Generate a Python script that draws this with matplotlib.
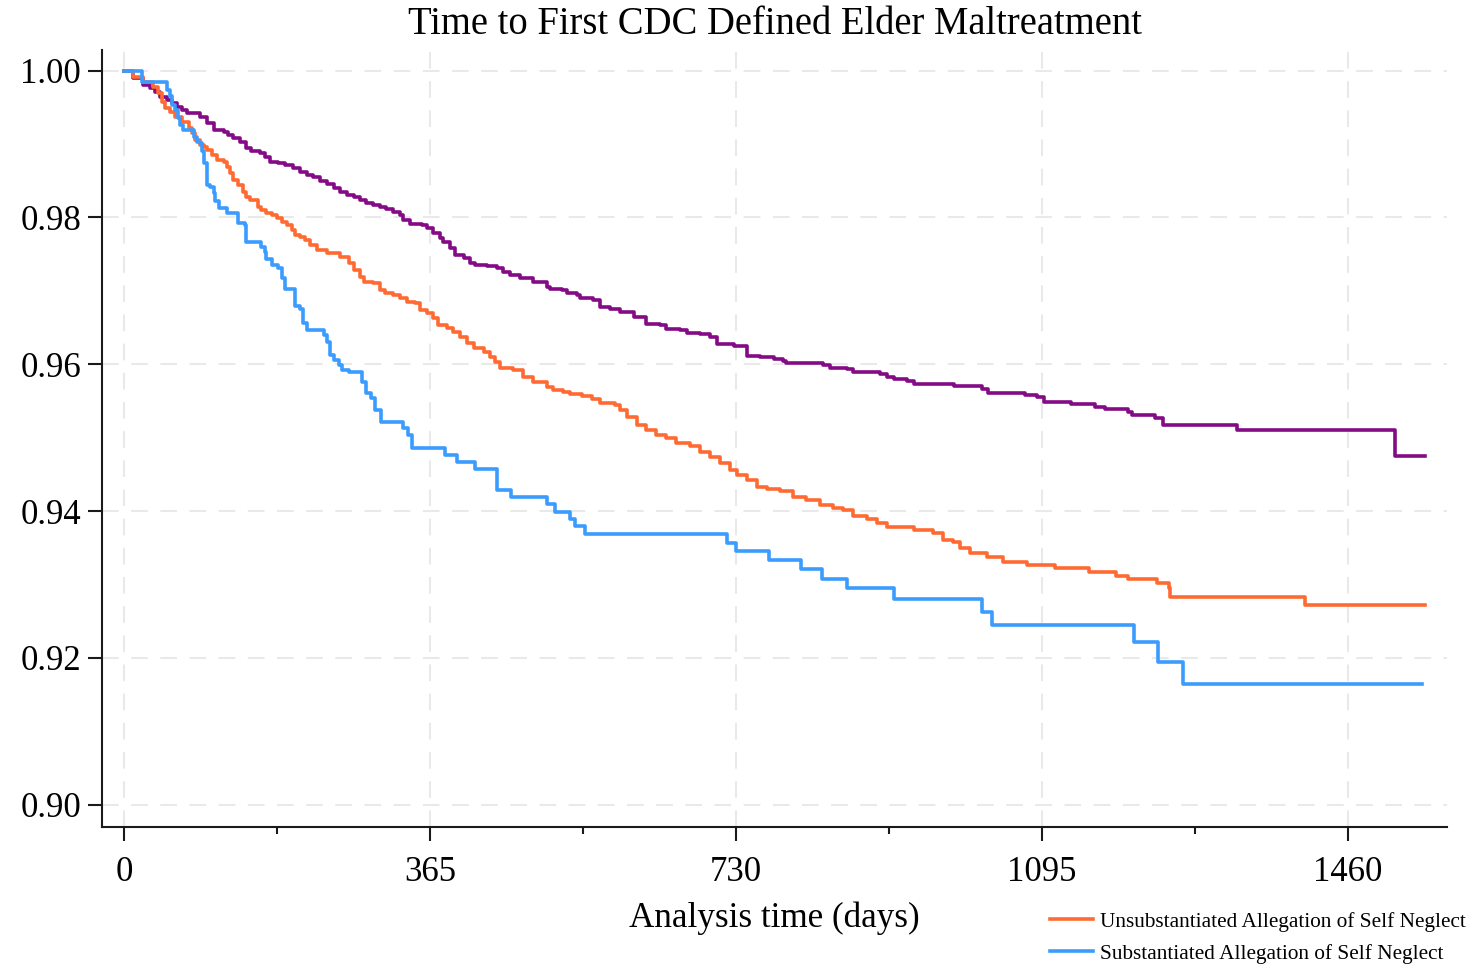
import matplotlib
matplotlib.use("Agg")
import matplotlib.pyplot as plt
from matplotlib.ticker import FixedLocator, FuncFormatter

plt.rcParams['font.family'] = ['Liberation Serif', 'DejaVu Serif']

title = "Time to First CDC Defined Elder Maltreatment"
xlabel = "Analysis time (days)"
label_unsub = "Unsubstantiated Allegation of Self Neglect"
label_sub = "Substantiated Allegation of Self Neglect"

x_ticks = [0, 365, 730, 1095, 1460]
x_minor = [182.5, 547.5, 912.5, 1277.5]
y_ticks = [0.90, 0.92, 0.94, 0.96, 0.98, 1.00]

# Purple series (no legend entry)
t_purple = [0, 11, 23, 31, 37, 43, 51, 57, 63, 69, 75, 85, 91, 99, 107, 119, 124, 130, 138, 146,
            152, 162, 168, 174, 184, 192, 202, 210, 218, 226, 234, 242, 250, 258, 266, 274, 282, 289,
            297, 305, 313, 321, 329, 333, 341, 355, 361, 369, 377, 381, 389, 395, 405, 413, 419, 433,
            445, 452, 460, 472, 488, 504, 508, 522, 528, 540, 544, 560, 568, 580, 592, 608, 623, 639,
            647, 663, 671, 687, 699, 707, 727, 743, 759, 775, 786, 790, 834, 842, 862, 870, 902, 910,
            918, 934, 942, 990, 1023, 1031, 1075, 1089, 1097, 1130, 1158, 1170, 1198, 1202, 1230,
            1239, 1327, 1516, 1552]
s_purple = [1.0, 0.99896, 0.99805, 0.99760, 0.99714, 0.99646, 0.99601, 0.99555, 0.99510, 0.99465,
            0.99428, 0.99419, 0.99374, 0.99283, 0.99192, 0.99169, 0.99124, 0.99079, 0.99033, 0.98942,
            0.98910, 0.98883, 0.98829, 0.98761, 0.98738, 0.98715, 0.98670, 0.98624, 0.98579, 0.98547,
            0.98502, 0.98456, 0.98397, 0.98352, 0.98307, 0.98275, 0.98238, 0.98193, 0.98170, 0.98139,
            0.98111, 0.98079, 0.98034, 0.97966, 0.97911, 0.97898, 0.97852, 0.97784, 0.97716, 0.97671,
            0.97580, 0.97489, 0.97444, 0.97376, 0.97353, 0.97339, 0.97308, 0.97262, 0.97217, 0.97171,
            0.97126, 0.97058, 0.97021, 0.97012, 0.96976, 0.96944, 0.96899, 0.96876, 0.96785, 0.96749,
            0.96717, 0.96649, 0.96549, 0.96535, 0.96481, 0.96467, 0.96431, 0.96413, 0.96367, 0.96276,
            0.96249, 0.96113, 0.96104, 0.96072, 0.96050, 0.96022, 0.95990, 0.95945, 0.95936, 0.95900,
            0.95868, 0.95831, 0.95800, 0.95777, 0.95732, 0.95700, 0.95660, 0.95614, 0.95582, 0.95550,
            0.95491, 0.95455, 0.95423, 0.95387, 0.95355, 0.95305, 0.95264, 0.95173, 0.95105, 0.94751,
            0.94751]

# Orange series: unsubstantiated
t_orange = [0, 11, 23, 35, 41, 45, 49, 55, 61, 69, 77, 81, 85, 91, 95, 99, 105, 111, 119, 123, 126,
            130, 136, 142, 146, 150, 160, 164, 170, 176, 182, 188, 194, 200, 204, 210, 216, 222, 230,
            242, 250, 258, 268, 274, 282, 286, 297, 305, 311, 321, 329, 337, 347, 353, 361, 369, 375,
            385, 393, 401, 409, 417, 429, 437, 443, 449, 464, 476, 488, 504, 512, 524, 532, 546, 558,
            568, 586, 592, 600, 612, 623, 635, 647, 659, 675, 687, 699, 711, 723, 731, 743, 755, 767,
            782, 798, 814, 830, 846, 858, 870, 886, 898, 910, 942, 965, 977, 989, 997, 1009, 1029,
            1049, 1077, 1110, 1151, 1183, 1198, 1232, 1246, 1248, 1409, 1552]
s_orange = [1.0, 0.99919, 0.99851, 0.99782, 0.99692, 0.99578, 0.99487, 0.99442, 0.99374, 0.99306,
            0.99215, 0.99147, 0.99056, 0.98988, 0.98965, 0.98920, 0.98852, 0.98783, 0.98761, 0.98693,
            0.98602, 0.98511, 0.98443, 0.98352, 0.98284, 0.98238, 0.98148, 0.98102, 0.98057, 0.98034,
            0.97989, 0.97943, 0.97898, 0.97830, 0.97762, 0.97739, 0.97693, 0.97625, 0.97557, 0.97521,
            0.97512, 0.97466, 0.97376, 0.97285, 0.97194, 0.97126, 0.97103, 0.97012, 0.96967, 0.96944,
            0.96899, 0.96853, 0.96831, 0.96740, 0.96694, 0.96626, 0.96535, 0.96490, 0.96445, 0.96376,
            0.96286, 0.96218, 0.96172, 0.96104, 0.96036, 0.95945, 0.95922, 0.95831, 0.95763, 0.95686,
            0.95650, 0.95627, 0.95595, 0.95568, 0.95523, 0.95468, 0.95446, 0.95377, 0.95286, 0.95173,
            0.95105, 0.95037, 0.94991, 0.94932, 0.94887, 0.94810, 0.94733, 0.94651, 0.94560, 0.94492,
            0.94424, 0.94333, 0.94297, 0.94278, 0.94197, 0.94151, 0.94083, 0.94038, 0.94015, 0.93933,
            0.93888, 0.93833, 0.93779, 0.93743, 0.93697, 0.93606, 0.93584, 0.93493, 0.93425, 0.93379,
            0.93311, 0.93266, 0.93220, 0.93175, 0.93120, 0.93070, 0.93016, 0.92948, 0.92834, 0.92721,
            0.92721]

# Blue series: substantiated
t_blue = [0, 21, 51, 55, 57, 61, 65, 67, 71, 83, 87, 91, 93, 95, 99, 103, 107, 109, 113, 123, 136,
          144, 146, 164, 168, 170, 176, 184, 188, 192, 204, 210, 214, 218, 238, 242, 246, 250, 256,
          260, 268, 284, 289, 295, 299, 307, 333, 339, 343, 383, 397, 419, 445, 462, 504, 514, 532,
          538, 550, 719, 730, 769, 807, 832, 862, 918, 1023, 1035, 1205, 1233, 1263, 1548]
s_blue = [1.0, 0.9985, 0.9974, 0.9965, 0.9953, 0.9947, 0.9935, 0.9926, 0.9919, 0.9910, 0.9903,
          0.9901, 0.9890, 0.9874, 0.9844, 0.9842, 0.9833, 0.9822, 0.9813, 0.9806, 0.9792, 0.9790,
          0.9767, 0.9760, 0.9753, 0.9744, 0.9735, 0.9731, 0.9717, 0.9703, 0.9679, 0.9676, 0.9656,
          0.9647, 0.9640, 0.9631, 0.9613, 0.9606, 0.9599, 0.9592, 0.9590, 0.9576, 0.9561, 0.9554,
          0.9538, 0.9522, 0.9513, 0.9504, 0.9486, 0.9476, 0.9467, 0.9458, 0.9429, 0.9419, 0.9410,
          0.9399, 0.9389, 0.9380, 0.9369, 0.9357, 0.9346, 0.9333, 0.9321, 0.9308, 0.9295, 0.9280,
          0.9263, 0.9245, 0.9221, 0.9194, 0.9165, 0.9165]

color_purple = "#840a86"
color_orange = "#ff6a33"
color_blue = "#3a9cff"

fig = plt.figure(figsize=(14.68, 9.64), dpi=100)
ax = fig.add_axes([102 / 1468, 1 - 827 / 964, (1447 - 102) / 1468, (827 - 50) / 964])

ax.plot(t_purple, s_purple, drawstyle="steps-post", color=color_purple, lw=2.6, zorder=3)
l1, = ax.plot(t_orange, s_orange, drawstyle="steps-post", color=color_orange, lw=2.6, zorder=3,
              label=label_unsub)
l2, = ax.plot(t_blue, s_blue, drawstyle="steps-post", color=color_blue, lw=2.6, zorder=3,
              label=label_sub)

ax.set_xlim(-26.2, 1578)
ax.set_ylim(0.89696, 1.00282)

ax.xaxis.set_major_locator(FixedLocator(x_ticks))
ax.xaxis.set_minor_locator(FixedLocator(x_minor))
ax.yaxis.set_major_locator(FixedLocator(y_ticks))
ax.yaxis.set_major_formatter(FuncFormatter(lambda v, p: f"{v:.2f}"))

ax.grid(True, which="major", color="#e9e9e9", lw=1.5, linestyle=(0, (8, 6)), zorder=0)
ax.set_axisbelow(True)

for side in ("top", "right"):
    ax.spines[side].set_visible(False)
for side in ("left", "bottom"):
    ax.spines[side].set_linewidth(1.5)
    ax.spines[side].set_color("#1a1a1a")

ax.tick_params(axis="both", which="major", labelsize=25, width=1.5, length=10, color="#1a1a1a")
ax.tick_params(axis="x", which="major", pad=11)
ax.tick_params(axis="y", which="major", pad=5)
ax.tick_params(axis="x", which="minor", width=1.5, length=5, color="#1a1a1a")

ax.set_xlabel(xlabel, fontsize=25.3, labelpad=9)
fig.text((102 + 1447) / 2 / 1468, 1 - 25 / 964, title, ha="center", va="center", fontsize=27.8)

fig.legend(handles=[l1, l2], loc="upper left", bbox_to_anchor=(1050 / 1468, 1 - 912 / 964),
           frameon=False, fontsize=15.3, handlelength=2.0, handletextpad=0.35,
           labelspacing=0.55, borderaxespad=0, borderpad=0)

fig.savefig("out.png", dpi=100)
